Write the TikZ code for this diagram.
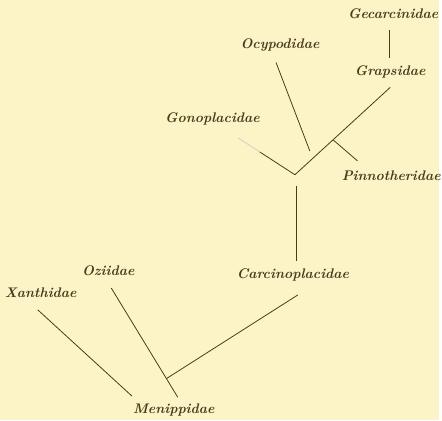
\documentclass[tikz,border=0pt]{standalone}
\usetikzlibrary{calc}
\definecolor{paper}{HTML}{FCF4C6}
\definecolor{ink}{HTML}{4A3A1E}
\tikzset{fam/.style={font=\fontsize{10.5}{12}\selectfont\bfseries\itshape, text=ink, inner sep=1pt},
         branch/.style={draw=ink, line width=0.6pt}}

\begin{document}
\begin{tikzpicture}[x=0.75pt,y=-0.75pt]
         \fill[paper] (0,0) rectangle (442,423);
         % family names
         \node[fam] (gec) at (396,14) {Gecarcinidae};
         \node[fam] (ocy) at (282,45) {Ocypodidae};
         \node[fam] (gra) at (393,72) {Grapsidae};
         \node[fam] (gon) at (214,120) {Gonoplacidae};
         \node[fam] (pin) at (394,177) {Pinnotheridae};
         \node[fam] (car) at (295,277) {Carcinoplacidae};
         \node[fam] (ozi) at (109,273) {Oziidae};
         \node[fam] (xan) at (41,295) {Xanthidae};
         \node[fam] (men) at (175,413) {Menippidae};
         % branch ends and forks
         \coordinate (gecB) at (392,30);   \coordinate (graT) at (392,58);
         \coordinate (graB) at (393,88);   \coordinate (fork) at (297,176);
         \coordinate (ocyB) at (278,63);   \coordinate (ocyE) at (312,152);
         \coordinate (gonB) at (240,139);  \coordinate (gonM) at ($(gonB)!0.38!(fork)$);
         \coordinate (pinB) at ($(graB)!0.6!(fork)$);  \coordinate (pinE) at (360,162);
         \coordinate (stemT) at (298,187); \coordinate (carT) at (298,263);
         \coordinate (carB) at (300,297);
         \coordinate (oziB) at (112,290);  \coordinate (menR) at (179,400);
         \coordinate (low) at ($(oziB)!0.83!(menR)$);
         \coordinate (xanB) at (38,312);   \coordinate (menL) at (133,399);
         % branches
         \draw[branch] (gecB) -- (graT);
         \draw[branch] (graB) -- (fork);
         \draw[branch] (ocyB) -- (ocyE);
         \draw[branch,draw=ink!25] (gonB) -- (gonM);
         \draw[branch] (gonM) -- (fork);
         \draw[branch] (pinB) -- (pinE);
         \draw[branch] (stemT) -- (carT);
         \draw[branch] (carB) -- (low);
         \draw[branch] (oziB) -- (menR);
         \draw[branch] (xanB) -- (menL);
\end{tikzpicture}
\end{document}
